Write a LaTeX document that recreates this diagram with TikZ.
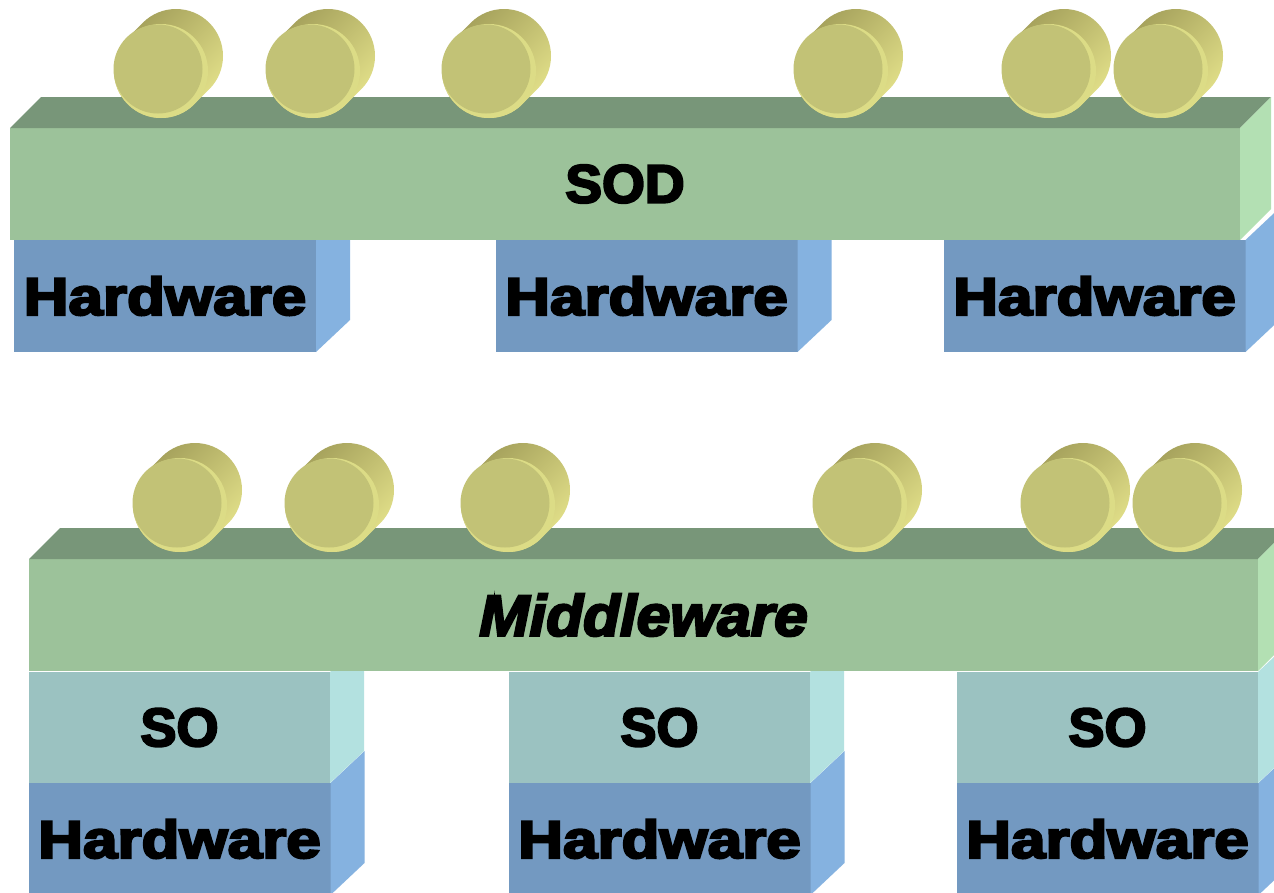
\documentclass[tikz,border=0pt]{standalone}
\usepackage{fontspec}
\usepackage{graphicx}
\usetikzlibrary{calc}
\newfontfamily\blk[FakeBold=4]{Liberation Sans Bold}
\newfontfamily\blki[FakeBold=4]{Liberation Sans Bold Italic}
\newcommand\widetxt[2]{\scalebox{#1}[1]{#2}}
\definecolor{barTop}{HTML}{789679}
\definecolor{barFront}{HTML}{9CC29A}
\definecolor{barSide}{HTML}{B3E0B3}
\definecolor{hwFront}{HTML}{7399C1}
\definecolor{hwSide}{HTML}{85B2E0}
\definecolor{soFront}{HTML}{9BC2C1}
\definecolor{soSide}{HTML}{B3E1E0}
\definecolor{coinFront}{HTML}{C2C276}
\definecolor{coinRim}{HTML}{DCDC86}
\definecolor{coinDark}{HTML}{A09C58}
\definecolor{coinLight}{HTML}{E6E48C}
\tikzset{
  face/.style={inner sep=0pt, outer sep=0pt, anchor=center, text=black},
  barbox/.style={face, fill=barFront, minimum width=1230pt, minimum height=112pt},
  hwbox/.style={face, fill=hwFront, minimum width=302pt, minimum height=112pt,
    font=\blk\fontsize{53}{53}\selectfont},
  sobox/.style={face, fill=soFront, minimum width=301pt, minimum height=111pt,
    font=\blk\fontsize{54}{54}\selectfont},
  hwside/.style={fill=hwSide},
  soside/.style={fill=soSide},
  bartop/.style={fill=barTop},
  barside/.style={fill=barSide},
  coin/.pic={
    \path[top color=coinDark, bottom color=coinLight, shading angle=45]
      (-45:47) -- ++(15,15) arc[start angle=-45, end angle=135, radius=47]
      -- ++(-15,-15) arc[start angle=135, end angle=315, radius=47] -- cycle;
    \fill[coinRim] (0,0) circle (47);
    \fill[coinFront] (-3,2) circle (44.5);
  }
}
\begin{document}
\begin{tikzpicture}[x=1pt,y=1pt]
\useasboundingbox (0,0) rectangle (1274,-892);
\clip (0,0) rectangle (1274,-892);
\fill[white] (0,0) rectangle (1274,-892);

% ---------- top section ----------
\node[hwbox] (hw1) at (165,-296) {\widetxt{1.17}{Hardware}};
\node[hwbox] (hw2) at (646.5,-296) {\widetxt{1.17}{Hardware}};
\node[hwbox] (hw3) at (1094.5,-296) {\widetxt{1.17}{Hardware}};
\foreach \n in {hw1,hw2,hw3}
  \fill[hwside] (\n.north east) -- ++(34,32) -- ++(0,-112) -- (\n.south east) -- cycle;

\node[barbox, font=\blk\fontsize{54}{54}\selectfont] (sod) at (625,-184) {\widetxt{1.02}{SOD}};
\fill[bartop] (sod.north west) -- ++(31,31) -- ($(sod.north east)+(31,31)$) -- (sod.north east) -- cycle;
\fill[barside] (sod.north east) -- ++(31,31) -- ++(0,-112) -- (sod.south east) -- cycle;

\foreach \cx in {161,313,489,841,1049,1161}
  \pic at (\cx,-71) {coin};

% ---------- bottom section ----------
\node[hwbox] (hw4) at (179.5,-839) {\widetxt{1.17}{Hardware}};
\node[hwbox] (hw5) at (659.5,-839) {\widetxt{1.17}{Hardware}};
\node[hwbox] (hw6) at (1107.5,-839) {\widetxt{1.17}{Hardware}};
\foreach \n in {hw4,hw5,hw6}
  \fill[hwside] (\n.north east) -- ++(34,32) -- ++(0,-112) -- (\n.south east) -- cycle;

\node[sobox] (so1) at (179.5,-727.5) {SO};
\node[sobox] (so2) at (659.5,-727.5) {SO};
\node[sobox] (so3) at (1107.5,-727.5) {SO};
\foreach \n in {so1,so2,so3}
  \fill[soside] (\n.north east) -- ++(34,32) -- ++(0,-111) -- (\n.south east) -- cycle;

\node[barbox, minimum width=1229pt, font=\blki\fontsize{58}{58}\selectfont] (mw) at (643.5,-615) {\widetxt{1.04}{Middleware}};
\fill[bartop] (mw.north west) -- ++(31,31) -- ($(mw.north east)+(31,31)$) -- (mw.north east) -- cycle;
\fill[barside] (mw.north east) -- ++(31,31) -- ++(0,-112) -- (mw.south east) -- cycle;

\foreach \cx in {180,332,508,860,1068,1180}
  \pic at (\cx,-505) {coin};
\end{tikzpicture}
\end{document}
